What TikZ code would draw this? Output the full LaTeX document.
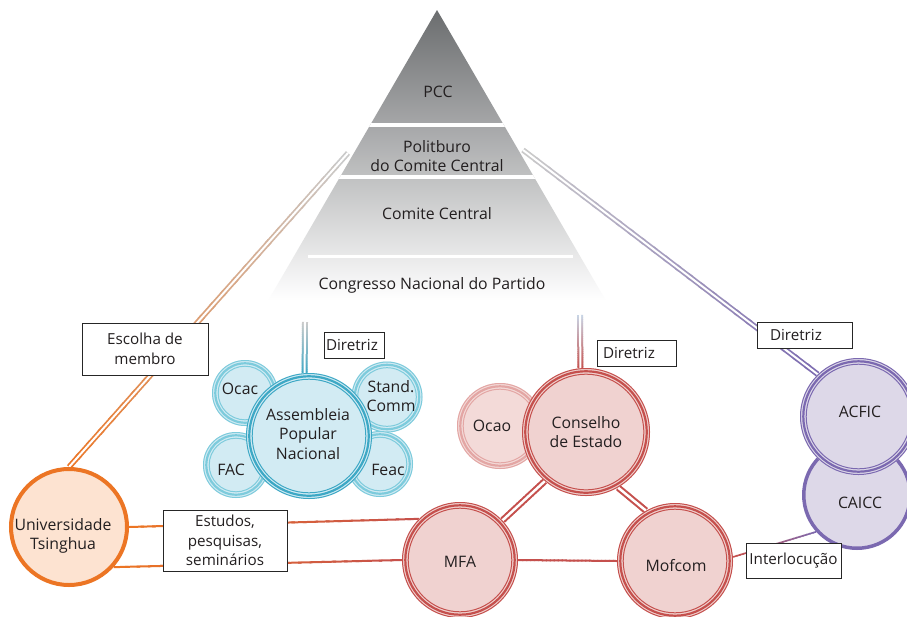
\documentclass[tikz,border=0pt]{standalone}
\usepackage{fontspec}
\setmainfont{Open Sans}
\usetikzlibrary{calc}
\pgfdeclarelayer{pyr}
\pgfdeclarelayer{lines}
\pgfsetlayers{pyr,lines,main}
\definecolor{txtc}{HTML}{231F20}
\definecolor{pyrtop}{HTML}{6B6D6F}
\definecolor{bluering}{HTML}{3DA8C5}
\definecolor{bluefill}{HTML}{D2EBF3}
\definecolor{bluelight}{HTML}{7DCBDC}
\definecolor{redring}{HTML}{C5504D}
\definecolor{redfill}{HTML}{F0D2D0}
\definecolor{ocaoring}{HTML}{E3A6A4}
\definecolor{ocaofill}{HTML}{F3DAD8}
\definecolor{purring}{HTML}{7B69B0}
\definecolor{purfill}{HTML}{DDD8E8}
\definecolor{orring}{HTML}{EC7524}
\definecolor{orfill}{HTML}{FDE3D1}
\definecolor{linegray}{HTML}{CACACA}
\definecolor{linepale}{HTML}{C8D4E4}
% ring node: name, position, radius, ring colour, fill colour, text
\newcommand{\ringnode}[6]{%
  \node[circle, fill=#5, minimum size=2*#3pt, inner sep=0pt, txt] (#1) at (#2) {#6};
  \draw[#4, line width=1pt] (#1.center) circle[radius=#3pt-0.5pt];
  \draw[#4, line width=2.2pt] (#1.center) circle[radius=#3pt-3.3pt];
  \draw[#4, line width=1pt] (#1.center) circle[radius=#3pt-6.2pt];
}
% gradient connector: from, to, colour A, colour B, width, white gap
\newcommand{\gradline}[6]{%
  \foreach \k in {0,...,24}{%
    \pgfmathsetmacro{\ta}{\k/25}%
    \pgfmathsetmacro{\tb}{min(1,(\k+1.3)/25)}%
    \pgfmathtruncatemacro{\pc}{100-4*\k}%
    \draw[line width=#5, draw=#3!\pc!#4] ($(#1)!\ta!(#2)$) -- ($(#1)!\tb!(#2)$);
  }%
  \ifdim#6>0pt \draw[white, line width=#6] (#1) -- (#2);\fi
}
\tikzset{
  txt/.style={font=\fontsize{15.8}{19.5}\selectfont, text=txtc, align=center, inner sep=0pt},
  boxed/.style={draw=black!85, line width=0.9pt, fill=white, font=\fontsize{15.2}{19.5}\selectfont, text=txtc, align=center, inner sep=0pt},
}
\begin{document}
\begin{tikzpicture}[x=1pt, y=-1pt]
\useasboundingbox (0,0) rectangle (907,616);
\begin{pgfonlayer}{pyr}
  \fill[white] (0,0) rectangle (907,616);
  \coordinate (apex) at (437,10);
  \coordinate (bl) at (268.5,300);
  \coordinate (br) at (605.5,300);
  \shade[top color=pyrtop, bottom color=white] (apex) -- (bl) -- (br) -- cycle;
  \begin{scope}
    \clip (apex) -- (bl) -- (br) -- cycle;
    \fill[white] (250,123.3) rectangle (620,127.3);
    \fill[white] (250,175.3) rectangle (620,179.3);
    \fill[white] (308,254.8) rectangle (573,257.6);
  \end{scope}
\end{pgfonlayer}
% pyramid texts
\node[txt] (pcc) at (438,92) {PCC};
\node[txt] (polit) at (437,156) {Politburo\\do Comite Central};
\node[txt] (cc) at (437,214) {Comite Central};
\node[txt] (cnp) at (432,285) {Congresso Nacional do Partido};
% free ends of connectors
\coordinate (lt) at (348,153);
\coordinate (rt) at (523,150);
\coordinate (bt) at (305,322);
\coordinate (rdt) at (580,315);
% blue cluster
\ringnode{ocac}{245,393}{33}{bluelight}{bluefill}{}
\ringnode{stand}{387,397}{35.5}{bluelight}{bluefill}{}
\ringnode{fac}{236,465}{33}{bluelight}{bluefill}{}
\ringnode{feac}{380,464}{33}{bluelight}{bluefill}{}
\node[txt] (ocact) at (240,389) {Ocac};
\node[txt] (standt) at (391,396) {Stand.\\Comm};
\node[txt] (fact) at (231,470) {FAC};
\node[txt] (feact) at (388,470) {Feac};
\ringnode{asm}{309,436}{63}{bluering}{bluefill}{}
\node[txt] (asmt) at (308,434) {Assembleia\\Popular\\Nacional};
% red cluster
\ringnode{ocao}{500,426}{43}{ocaoring}{ocaofill}{}
\node[txt] (ocaot) at (492,426) {Ocao};
\ringnode{cons}{586,432}{64}{redring}{redfill}{Conselho\\de Estado}
\ringnode{mfa}{460,560}{58}{redring}{redfill}{}
\node[txt] (mfat) at (460,562) {MFA};
\ringnode{mof}{675,561}{58}{redring}{redfill}{}
\node[txt] (moft) at (676,566) {Mofcom};
% purple cluster
\node[circle, draw=purring, line width=3.5pt, fill=purfill, minimum size=106.5pt, inner sep=0pt] (caicc) at (857,495) {};
\node[txt] (caicct) at (860,503) {CAICC};
\ringnode{acfic}{858.5,416.5}{58.5}{purring}{purfill}{}
\node[txt] (acfict) at (860,412) {ACFIC};
% university
\node[circle, draw=orring, line width=4pt, fill=orfill, minimum size=116pt, inner sep=0pt] (univ) at (69,527) {};
\node[txt] (univt) at (63,536) {Universidade\\Tsinghua};
% connectors
\begin{pgfonlayer}{lines}
  \gradline{lt}{univ.north}{linegray}{orring}{5.5pt}{2pt}
  \gradline{rt}{acfic.134}{linegray}{purring}{5.5pt}{2pt}
  \gradline{bt}{asm.94}{linegray}{bluering}{6pt}{2pt}
  \gradline{rdt}{cons.95}{linepale}{redring}{6pt}{2pt}
  \gradline{cons.230}{mfa.43}{redring}{redring}{6.5pt}{2.5pt}
  \gradline{cons.-60}{mof.120}{redring}{redring}{6.5pt}{2.5pt}
  \gradline{univ.0}{mfa.135}{orring}{redring}{2pt}{0pt}
  \gradline{univ.-42}{mfa.180}{orring}{redring}{2pt}{0pt}
  \gradline{mfa.east}{mof.west}{redring}{redring}{2pt}{0pt}
  \gradline{mof.4}{caicc.222}{redring}{purring}{1.6pt}{0pt}
\end{pgfonlayer}
% label boxes
\node[boxed, minimum width=126pt, minimum height=52pt] (escolha) at (145,349) {Escolha de\\membro};
\node[boxed, text width=56pt, inner xsep=2pt, align=left, minimum height=26pt] (dir1) at (354,345) {Diretriz};
\node[boxed, text width=67pt, inner xsep=6pt, align=left, minimum height=26pt] (dir2) at (636.5,353) {Diretriz};
\node[boxed, text width=69pt, inner xsep=13pt, align=left, minimum height=26pt] (dir3) at (804.5,335) {Diretriz};
\node[boxed, minimum width=124pt, minimum height=61pt] (estudos) at (225,540.5) {Estudos,\\pesquisas,\\seminários};
\node[boxed, minimum width=95pt, minimum height=35pt] (interl) at (793.5,560.5) {Interlocução};
\end{tikzpicture}
\end{document}
